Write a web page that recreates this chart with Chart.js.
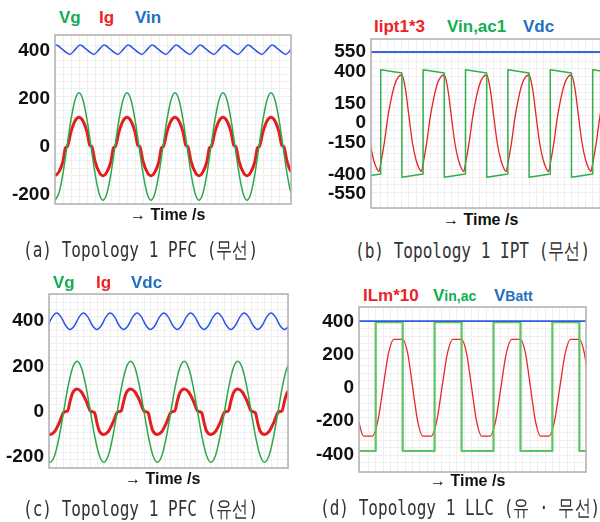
<!DOCTYPE html>
<html lang="ko">
<head>
<meta charset="UTF-8">
<title>Topology 1 waveforms</title>
<script src="https://cdn.jsdelivr.net/npm/chart.js@4.4.1/dist/chart.umd.min.js"></script>
<style>
    body { margin: 0; background: #fff; font-family: "Liberation Sans", Arial, sans-serif; }
    #page { position: relative; width: 600px; height: 522px; overflow: hidden; }
    canvas { position: absolute; }
    .leg, .xt, .cap { position: absolute; white-space: nowrap; line-height: 1; }
    .leg { font-size: 17px; font-weight: bold; }
    .leg small { font-size: 14px; }
    .xt { font-size: 16px; font-weight: bold; color: #111; }
    .cap { font-family: "DejaVu Sans Mono", monospace; font-size: 22px; color: #333;
           transform: scaleX(0.73); transform-origin: 0 0; }
    .g { color: #12ad52; } .r { color: #ec2227; } .b { color: #1d6fc4; }
</style>
</head>
<body>
<div id="page">
    <!-- (a) -->
    <div class="leg g" style="left:59px;top:9px">Vg</div>
    <div class="leg r" style="left:99px;top:9px">Ig</div>
    <div class="leg b" style="left:135px;top:9px">Vin</div>
    <canvas id="chartA" width="294" height="175" style="left:0;top:32px"></canvas>
    <div class="xt" style="left:130px;top:207px">→ Time /s</div>
    <div class="cap" style="left:23px;top:239px">(a) Topology 1 PFC (무선)</div>

    <!-- (b) -->
    <div class="leg r" style="left:374px;top:18px">Iipt1*3</div>
    <div class="leg g" style="left:447px;top:18px">Vin,ac1</div>
    <div class="leg b" style="left:523px;top:18px">Vdc</div>
    <canvas id="chartB" width="325" height="175" style="left:300px;top:36px"></canvas>
    <div class="xt" style="left:443px;top:212px">→ Time /s</div>
    <div class="cap" style="left:355px;top:240px">(b) Topology 1 IPT (무선)</div>

    <!-- (c) -->
    <div class="leg g" style="left:53px;top:274px">Vg</div>
    <div class="leg r" style="left:96px;top:274px">Ig</div>
    <div class="leg b" style="left:131px;top:274px">Vdc</div>
    <canvas id="chartC" width="291" height="180" style="left:0;top:291px"></canvas>
    <div class="xt" style="left:125px;top:471px">→ Time /s</div>
    <div class="cap" style="left:23px;top:498px">(c) Topology 1 PFC (유선)</div>

    <!-- (d) -->
    <div class="leg r" style="left:363px;top:287px">ILm*10</div>
    <div class="leg g" style="left:433px;top:287px">V<small>in,ac</small></div>
    <div class="leg b" style="left:494px;top:287px">V<small>Batt</small></div>
    <canvas id="chartD" width="289" height="171" style="left:300px;top:304px"></canvas>
    <div class="xt" style="left:430px;top:473px">→ Time /s</div>
    <div class="cap" style="left:320px;top:497px">(d) Topology 1 LLC (유 · 무선)</div>
</div>

<script>
    // ---- (a) PFC, wireless ----
    const aTime = [0,1,2,3,4,5,6,7,8,9,10,11,12,13,14,15,16,17,18,19,20,21,22,23,24,25,26,27,28,29,
                   30,31,32,33,34,35,36,37,38,39,40,41,42,43,44,45,46,47,48,49,50,51,52,53,54,55,56,57,58,59,60];
    const aVg = [-224,-194,-112,0,112,194,224,194,112,0,-112,-194,
                 -224,-194,-112,0,112,194,224,194,112,0,-112,-194,
                 -224,-194,-112,0,112,194,224,194,112,0,-112,-194,
                 -224,-194,-112,0,112,194,224,194,112,0,-112,-194,
                 -224,-194,-112,0,112,194,224,194,112,0,-112,-194,
                 -224];
    const aIgTime = [0,1,2,2.6,3.1,4,5,6,7,8,8.7,9.2,10,11,
                     12,13,14,14.6,15.1,16,17,18,19,20,20.7,21.2,22,23,
                     24,25,26,26.6,27.1,28,29,30,31,32,32.7,33.2,34,35,
                     36,37,38,38.6,39.1,40,41,42,43,44,44.7,45.2,46,47,
                     48,49,50,50.6,51.1,52,53,54,55,56,56.7,57.2,58,59,
                     60];
    const aIg = [-122,-106,-61,-6,0,61,106,122,106,61,5,-1,-61,-106,
                 -122,-106,-61,-6,0,61,106,122,106,61,5,-1,-61,-106,
                 -122,-106,-61,-6,0,61,106,122,106,61,5,-1,-61,-106,
                 -122,-106,-61,-6,0,61,106,122,106,61,5,-1,-61,-106,
                 -122,-106,-61,-6,0,61,106,122,106,61,5,-1,-61,-106,
                 -122];
    const aVinTime = [-1,0.3,2,3.7,5,6.3,8,9.7,11,12.3,14,15.7,17,18.3,20,21.7,23,24.3,26,27.7,
                      29,30.3,32,33.7,35,36.3,38,39.7,41,42.3,44,45.7,47,48.3,50,51.7,53,54.3,56,57.7,59,60.3];
    const aVin = [404,423,403,384,404,423,403,384,404,423,403,384,404,423,403,384,404,423,403,384,
                  404,423,403,384,404,423,403,384,404,423,403,384,404,423,403,384,404,423,403,384,404,423];
    const aTicks = [400, 200, 0, -200];

    // ---- (b) IPT, wireless ----
    const bGreenTime = [-3,0,0,6,6,12,12,18,18,24,24,30,30,36,36,42,42,48,48,54,54,60,60,66,66,70];
    const bGreen = [-408,-395,412,388,-421,-395,412,388,-421,-395,412,388,-421,
                    -395,412,388,-421,-395,412,388,-421,-395,412,388,-421,-412];
    const bRedTime = [-3,-2,-1,-0.5,
                      0,1,2,3,4,5,6,7,8,9,10,11,11.5,
                      12,13,14,15,16,17,18,19,20,21,22,23,23.5,
                      24,25,26,27,28,29,30,31,32,33,34,35,35.5,
                      36,37,38,39,40,41,42,43,44,45,46,47,47.5,
                      48,49,50,51,52,53,54,55,56,57,58,59,59.5,
                      60,61,62,63,64,65,66,67,68,69,70,71,71.5];
    const bRed = [-157,-287,-360,-376,
                  -315,-156,41,191,300,357,372,262,49,-157,-287,-360,-376,
                  -315,-156,41,191,300,357,372,262,49,-157,-287,-360,-376,
                  -315,-156,41,191,300,357,372,262,49,-157,-287,-360,-376,
                  -315,-156,41,191,300,357,372,262,49,-157,-287,-360,-376,
                  -315,-156,41,191,300,357,372,262,49,-157,-287,-360,-376,
                  -315,-156,41,191,300,357,372,262,49,-157,-287,-360,-376];
    const bVdcTime = [-3, 70];
    const bVdc = [550, 550];
    const bTicks = [550, 400, 150, 0, -150, -400, -550];

    // ---- (c) PFC, wired ----
    const cTime = [-1,0,1,2,3,4,5,6,7,8,9,10,11,12,13,14,15,16,17,18,19,20,21,22,23,24,25,26,27,
                   28,29,30,31,32,33,34,35,36,37,38,39,40,41,42,43,44,45,46,47,48,49,50,51,52,53,54];
    const cVg = [-193,
                 -223,-193,-112,0,112,193,223,193,112,0,-112,-193,
                 -223,-193,-112,0,112,193,223,193,112,0,-112,-193,
                 -223,-193,-112,0,112,193,223,193,112,0,-112,-193,
                 -223,-193,-112,0,112,193,223,193,112,0,-112,-193,
                 -223,-193,-112,0,112,193,223];
    const cIgTime = [-1,
                     0,1,2,2.9,3.3,3.9,4.5,5,6,7,8,8.9,9.3,9.9,10.5,11,
                     12,13,14,14.9,15.3,15.9,16.5,17,18,19,20,20.9,21.3,21.9,22.5,23,
                     24,25,26,26.9,27.3,27.9,28.5,29,30,31,32,32.9,33.3,33.9,34.5,35,
                     36,37,38,38.9,39.3,39.9,40.5,41,42,43,44,44.9,45.3,45.9,46.5,47,
                     48,49,50,50.9,51.3,51.9,52.5,53,54];
    const cIg = [-87,
                 -100,-87,-50,-6,0,4,50,82,100,87,50,6,0,-4,-52,-85,
                 -100,-87,-50,-6,0,4,50,82,100,87,50,6,0,-4,-52,-85,
                 -100,-87,-50,-6,0,4,50,82,100,87,50,6,0,-4,-52,-85,
                 -100,-87,-50,-6,0,4,50,82,100,87,50,6,0,-4,-52,-85,
                 -100,-87,-50,-6,0,4,50,82,100];
    const cVdcTime = [-0.55,0.45,1.45,2.45,3.45,4.45,5.45,6.45,7.45,8.45,9.45,10.45,11.45,12.45,13.45,
                      14.45,15.45,16.45,17.45,18.45,19.45,20.45,21.45,22.45,23.45,24.45,25.45,26.45,27.45,
                      28.45,29.45,30.45,31.45,32.45,33.45,34.45,35.45,36.45,37.45,38.45,39.45,40.45,41.45,
                      42.45,43.45,44.45,45.45,46.45,47.45,48.45,49.45,50.45,51.45,52.45,53.45,54.45];
    const cVdc = [380,417,435,417,380,362,380,417,435,417,380,362,380,417,435,417,380,362,
                  380,417,435,417,380,362,380,417,435,417,380,362,380,417,435,417,380,362,
                  380,417,435,417,380,362,380,417,435,417,380,362,380,417,435,417,380,362,
                  380,417];
    const cTicks = [400, 200, 0, -200];

    // ---- (d) LLC, wired and wireless ----
    const dGreenTime = [-4,0,0,5.5,5.5,12,12,17.5,17.5,24,24,29.5,29.5,36,36,41.5,41.5,44];
    const dGreen = [-380,-380,400,400,-380,-380,400,400,-380,-380,400,400,-380,-380,400,400,-380,-380];
    const dRedTime = [-5.47,-4.45,-3.42,-2.4,
                      -0.7,0.4,1.5,2.6,3.7,5.5,6.53,7.55,8.58,9.6,
                      11.3,12.4,13.5,14.6,15.7,17.5,18.53,19.55,20.58,21.6,
                      23.3,24.4,25.5,26.6,27.7,29.5,30.53,31.55,32.58,33.6,
                      35.3,36.4,37.5,38.6,39.7,41.5,42.53,43.55,44.58,45.6];
    const dRed = [209,2,-204,-290,
                  -290,-204,2,209,295,295,209,2,-204,-290,
                  -290,-204,2,209,295,295,209,2,-204,-290,
                  -290,-204,2,209,295,295,209,2,-204,-290,
                  -290,-204,2,209,295,295,209,2,-204,-290];
    const dBattTime = [-4, 44];
    const dBatt = [406, 406];
    const dTicks = [400, 200, 0, -200, -400];

    Chart.defaults.font.family = '"Liberation Sans", Arial, sans-serif';

    // grey box round the plot area
    const frame = {
        id: 'frame',
        afterDraw(chart) {
            const { ctx, chartArea: a } = chart;
            ctx.save();
            ctx.strokeStyle = '#b0b0b0';
            ctx.lineWidth = 1.5;
            ctx.strokeRect(a.left, a.top, a.right - a.left, a.bottom - a.top);
            ctx.restore();
        }
    };

    const gridColor = '#efefef';

    function series(t, v, color, width, smooth) {
        return {
            data: t.map((x, i) => ({ x: x, y: v[i] })),
            borderColor: color,
            borderWidth: width,
            pointRadius: 0,
            fill: false,
            tension: 0,
            cubicInterpolationMode: smooth ? 'monotone' : 'default',
            borderJoinStyle: 'round'
        };
    }

    function panel(id, o) {
        return new Chart(document.getElementById(id), {
            type: 'line',
            data: { datasets: o.datasets },
            options: {
                responsive: false,
                animation: false,
                devicePixelRatio: 1,
                layout: { padding: { left: 0, top: 3, right: 3, bottom: 3 } },
                plugins: { legend: { display: false }, tooltip: { enabled: false } },
                scales: {
                    x: {
                        type: 'linear', min: o.xMin, max: o.xMax,
                        ticks: { display: false, stepSize: o.xStep },
                        grid: { color: gridColor, drawTicks: false },
                        border: { display: false },
                        afterFit: a => { a.height = 0; }
                    },
                    y: {
                        type: 'linear', position: 'left', min: o.yMin, max: o.yMax,
                        afterBuildTicks: a => { a.ticks = o.ticks.map(v => ({ value: v })); },
                        ticks: { color: '#111', padding: 5, autoSkip: false,
                                 font: { size: 19, weight: 'bold' }, callback: v => String(v) },
                        grid: { display: false, drawTicks: false },
                        border: { display: false },
                        afterFit: a => { a.width = o.axisW; a.paddingTop = 0; a.paddingBottom = 0; }
                    },
                    yg: {
                        type: 'linear', position: 'left', min: o.yMin, max: o.yMax,
                        ticks: { display: false, stepSize: o.yStep },
                        grid: { color: gridColor, drawTicks: false },
                        border: { display: false },
                        afterFit: a => { a.width = 0; }
                    }
                }
            },
            plugins: [frame]
        });
    }

    panel('chartA', {
        xMin: 0, xMax: 59, xStep: 2, yMin: -240, yMax: 465, yStep: 30, axisW: 55, ticks: aTicks,
        datasets: [
            series(aVinTime, aVin, '#2a55e5', 1.5, true),
            series(aTime, aVg, '#2ca84a', 1.5, true),
            series(aIgTime, aIg, '#e41e1e', 3, true)
        ]
    });

    panel('chartB', {
        xMin: -2.75, xMax: 68.3, xStep: 2, yMin: -659, yMax: 651, yStep: 60, axisW: 71, ticks: bTicks,
        datasets: [
            series(bVdcTime, bVdc, '#3a66dd', 2, false),
            series(bGreenTime, bGreen, '#2fb04a', 1.5, false),
            series(bRedTime, bRed, '#e22525', 1.3, true)
        ]
    });

    panel('chartC', {
        xMin: -0.27, xMax: 53.24, xStep: 1.5, yMin: -248, yMax: 519, yStep: 30, axisW: 49, ticks: cTicks,
        datasets: [
            series(cVdcTime, cVdc, '#2a55e5', 1.5, true),
            series(cTime, cVg, '#2ca84a', 1.5, true),
            series(cIgTime, cIg, '#e41e1e', 3, true)
        ]
    });

    panel('chartD', {
        xMin: -3.4, xMax: 42.85, xStep: 1.5, yMin: -507, yMax: 491, yStep: 45, axisW: 59, ticks: dTicks,
        datasets: [
            series(dBattTime, dBatt, '#2e5be0', 1.8, false),
            series(dGreenTime, dGreen, '#5cc460', 2.2, false),
            series(dRedTime, dRed, '#e42a2a', 1.3, true)
        ]
    });
</script>
</body>
</html>
